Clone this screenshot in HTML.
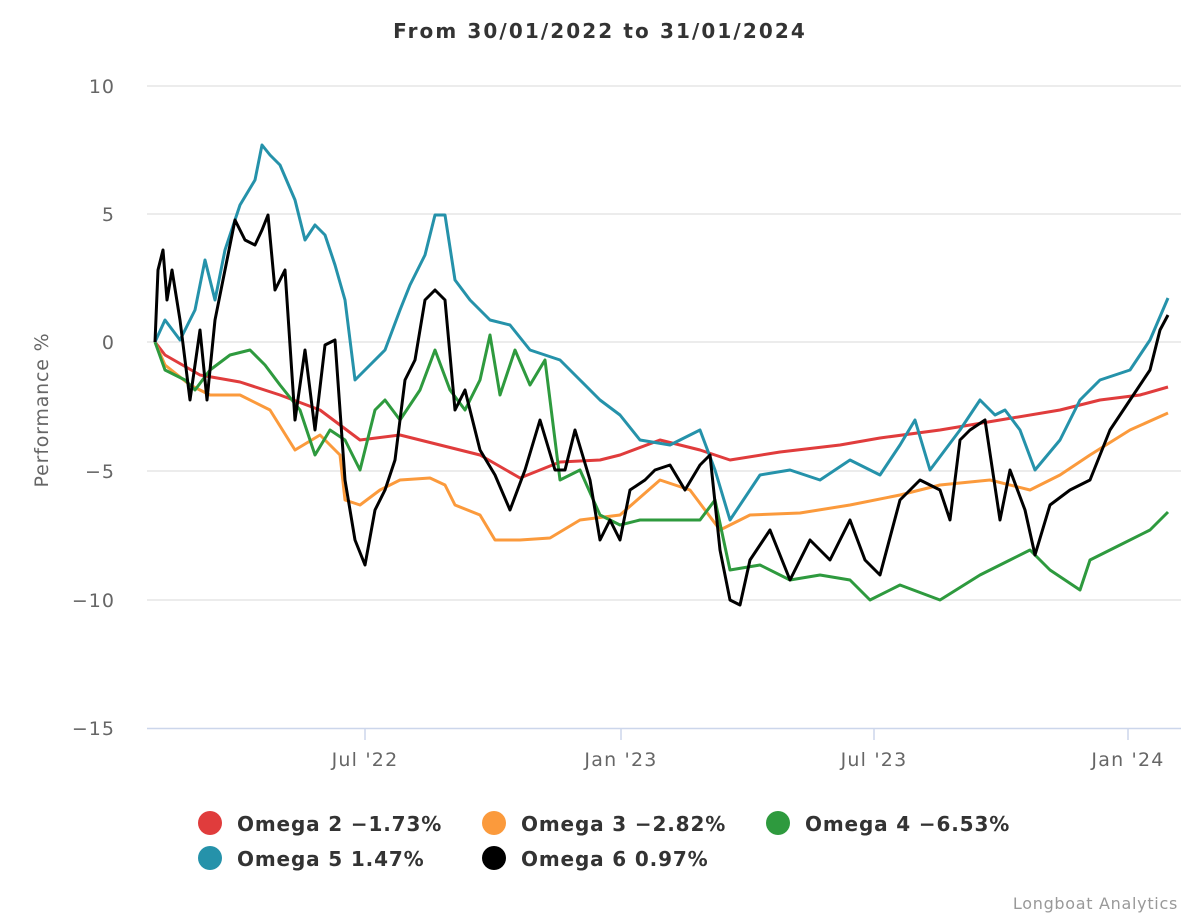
<!DOCTYPE html>
<html><head><meta charset="utf-8"><style>
html,body{margin:0;padding:0;background:#fff;}
svg{display:block;font-family:"DejaVu Sans","Liberation Sans",sans-serif;}
</style></head><body>
<svg width="1200" height="920" viewBox="0 0 1200 920">
<rect width="1200" height="920" fill="#fff"/>
<text x="600" y="38" text-anchor="middle" font-size="20" font-weight="bold" fill="#333" letter-spacing="2.1">From 30/01/2022 to 31/01/2024</text>
<g stroke="#e6e6e6" stroke-width="1.5">
<line x1="147" y1="86" x2="1181" y2="86"/>
<line x1="147" y1="214" x2="1181" y2="214"/>
<line x1="147" y1="342" x2="1181" y2="342"/>
<line x1="147" y1="471" x2="1181" y2="471"/>
<line x1="147" y1="600" x2="1181" y2="600"/>
</g>
<line x1="147" y1="728.5" x2="1181" y2="728.5" stroke="#ccd6eb" stroke-width="1.5"/>
<g stroke="#ccd6eb" stroke-width="1.5">
<line x1="365" y1="728" x2="365" y2="740"/>
<line x1="621" y1="728" x2="621" y2="740"/>
<line x1="874" y1="728" x2="874" y2="740"/>
<line x1="1128" y1="728" x2="1128" y2="740"/>
</g>
<g font-size="19" fill="#666" text-anchor="end" letter-spacing="1">
<text x="115" y="93">10</text>
<text x="115" y="221">5</text>
<text x="115" y="349">0</text>
<text x="115" y="478">−5</text>
<text x="115" y="607">−10</text>
<text x="115" y="735">−15</text>
</g>
<g font-size="19" fill="#666" text-anchor="middle" letter-spacing="1.2">
<text x="365" y="766">Jul '22</text>
<text x="621" y="766">Jan '23</text>
<text x="874" y="766">Jul '23</text>
<text x="1128" y="766">Jan '24</text>
</g>
<text transform="translate(48,410) rotate(-90)" text-anchor="middle" font-size="19" fill="#666" letter-spacing="0.8">Performance %</text>
<g fill="none" stroke-width="3" stroke-linejoin="round">
<polyline stroke="#e03c3c" points="155,342 165,355 200,375 240,382 280,395 320,410 360,440 400,435 440,445 480,455 520,478 560,462 600,460 620,455 660,440 700,450 730,460 780,452 840,445 880,438 940,430 1000,420 1060,410 1100,400 1140,395 1168,387"/>
<polyline stroke="#fb9a3c" points="155,342 165,365 190,385 210,395 240,395 270,410 295,450 320,435 340,455 345,500 360,505 380,490 400,480 430,478 445,485 455,505 480,515 495,540 520,540 550,538 580,520 620,515 660,480 690,490 720,530 750,515 800,513 850,505 900,495 940,485 990,480 1030,490 1060,475 1090,455 1130,430 1168,413"/>
<polyline stroke="#2e9a3e" points="155,342 165,370 185,380 195,390 210,370 230,355 250,350 265,365 280,385 300,410 315,455 330,430 345,440 360,470 375,410 385,400 400,420 420,390 435,350 450,390 465,410 480,380 490,335 500,395 515,350 530,385 545,360 560,480 580,470 600,515 620,525 640,520 670,520 700,520 715,500 730,570 760,565 790,580 820,575 850,580 870,600 900,585 940,600 980,575 1010,560 1030,550 1050,570 1080,590 1090,560 1120,545 1150,530 1168,512"/>
<polyline stroke="#2592aa" points="155,342 165,320 180,340 195,310 205,260 215,300 225,250 240,205 255,180 262,145 270,155 280,165 295,200 305,240 315,225 325,235 335,265 345,300 355,380 370,365 385,350 400,310 410,285 425,255 435,215 445,215 455,280 470,300 490,320 510,325 530,350 560,360 580,380 600,400 620,415 640,440 670,445 700,430 715,470 730,520 760,475 790,470 820,480 850,460 880,475 900,445 915,420 930,470 960,430 980,400 995,415 1005,410 1020,430 1035,470 1060,440 1080,400 1100,380 1130,370 1150,340 1168,298"/>
<polyline stroke="#000" points="155,342 158,270 163,250 167,300 172,270 180,320 190,400 200,330 207,400 215,320 225,270 235,220 245,240 255,245 262,230 268,215 275,290 285,270 295,420 305,350 315,430 325,345 335,340 345,480 355,540 365,565 375,510 385,490 395,460 405,380 415,360 425,300 435,290 445,300 455,410 465,390 480,450 495,475 510,510 525,470 540,420 555,470 565,470 575,430 590,480 600,540 610,520 620,540 630,490 645,480 655,470 670,465 685,490 700,465 710,455 720,550 730,600 740,605 750,560 770,530 790,580 810,540 830,560 850,520 865,560 880,575 900,500 920,480 940,490 950,520 960,440 970,430 985,420 1000,520 1010,470 1025,510 1035,555 1050,505 1070,490 1090,480 1110,430 1130,400 1140,385 1150,370 1160,330 1168,315"/>
</g>
<g font-size="20" font-weight="bold" fill="#333" letter-spacing="0.85">
<circle cx="210" cy="823" r="12" fill="#e03c3c"/><text x="237" y="831">Omega 2 −1.73%</text>
<circle cx="494" cy="823" r="12" fill="#fb9a3c"/><text x="521" y="831">Omega 3 −2.82%</text>
<circle cx="778" cy="823" r="12" fill="#2e9a3e"/><text x="805" y="831">Omega 4 −6.53%</text>
<circle cx="210" cy="858" r="12" fill="#2592aa"/><text x="237" y="866">Omega 5 1.47%</text>
<circle cx="494" cy="858" r="12" fill="#000"/><text x="521" y="866">Omega 6 0.97%</text>
</g>
<text x="1178" y="909" text-anchor="end" font-size="16" fill="#999" letter-spacing="0.7">Longboat Analytics</text>
</svg>
</body></html>
